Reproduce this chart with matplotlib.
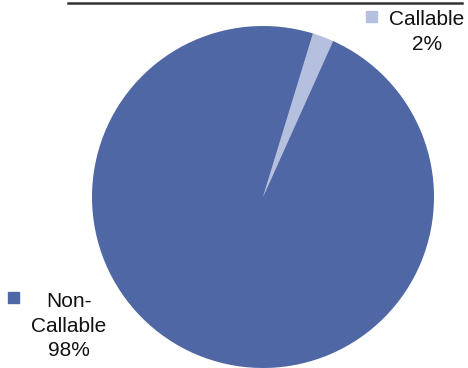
import matplotlib
matplotlib.use("Agg")
import matplotlib.pyplot as plt
from matplotlib.patches import Rectangle
from matplotlib.lines import Line2D

labels = ["Callable", "Non-Callable"]
shares = [2, 98]
colors = ["#B4C0DD", "#4F67A5"]

W, H = 468, 368
fig = plt.figure(figsize=(W / 100, H / 100), dpi=100)
plt.rcParams["font.family"] = ["Liberation Sans", "DejaVu Sans"]

cx, cy, r = 263, 197, 171
ax = fig.add_axes([(cx - r) / W, 1 - (cy + r) / H, 2 * r / W, 2 * r / H])
ax.pie(shares, colors=colors, startangle=73, counterclock=False,
       wedgeprops=dict(linewidth=0))
ax.set_xlim(-1, 1)
ax.set_ylim(-1, 1)
ax.set_aspect("equal")
ax.axis("off")

# rule across the top
fig.add_artist(Line2D([68 / W, 462 / W], [1 - 3 / H, 1 - 3 / H],
                      color="#333333", linewidth=1.8))

def px(x, y):
    return x / W, 1 - y / H

# legend-style labels
fig.add_artist(Rectangle(px(366, 22), 11 / W, 11 / H, color=colors[0],
                         transform=fig.transFigure))
fig.text(*px(427, 32), "Callable\n2%", ha="center", va="center",
         multialignment="center", fontsize=15, linespacing=1.38, color="#111111")

fig.add_artist(Rectangle(px(8, 303), 11 / W, 11 / H, color=colors[1],
                         transform=fig.transFigure))
fig.text(*px(69, 326), "Non-\nCallable\n98%", ha="center", va="center",
         multialignment="center", fontsize=15, linespacing=1.38, color="#111111")

fig.savefig("out.png", dpi=100)
